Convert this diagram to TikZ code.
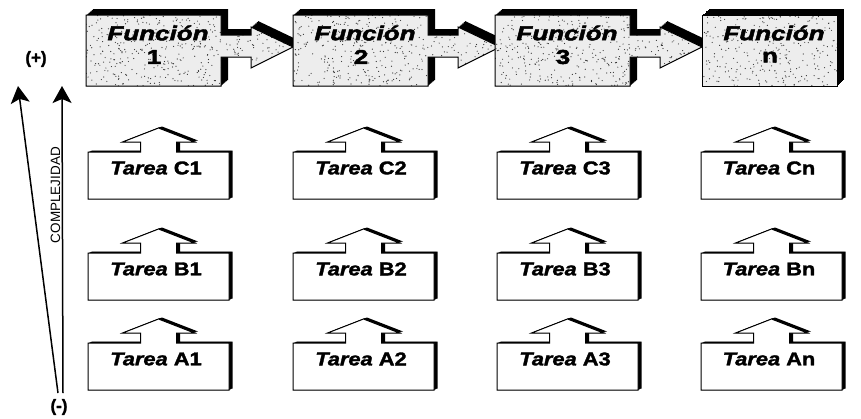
\documentclass[tikz,border=0pt]{standalone}
\usepackage{fontspec}
\setmainfont{Liberation Sans}
\newfontfamily\fnfont[FakeStretch=1.3,FakeBold=2.5]{Liberation Sans}
\newfontfamily\tkfont[FakeStretch=1.18,FakeBold=1.8]{Liberation Sans}
\newfontfamily\sgnfont[FakeBold=1.5]{Liberation Sans}
\usetikzlibrary{arrows.meta}
\tikzset{
  fntxt/.style={font=\fnfont\fontsize{20}{22}\selectfont\bfseries\itshape, inner sep=0pt},
  numtxt/.style={font=\fnfont\fontsize{20}{22}\selectfont\bfseries, inner sep=0pt},
  tktxt/.style={font=\tkfont\fontsize{18.5}{20}\selectfont\bfseries, inner sep=0pt},
  sgn/.style={font=\sgnfont\fontsize{17}{19}\selectfont\bfseries, inner sep=0pt},
  bigarrow/.style={line width=1.5pt, -{Stealth[length=17pt,width=19pt,inset=4pt]}},
  frontface/.style={fill=black!7},
  edge/.style={draw=black, line width=1pt},
}
\begin{document}
\begin{tikzpicture}[x=1pt,y=-1pt]
\useasboundingbox (0,0) rectangle (861,418);
\pgfmathsetseed{7}
% ---------- function boxes ----------
\foreach \L/\lab/\arr in {86/1/1,293/2/1,495/3/1,702/n/0}{
  \ifnum\arr=1
    \def\fpath{(\L,15) -- (\L+135,15) -- (\L+135,35) -- (\L+165,35) -- (\L+165,27) -- (\L+207,47) -- (\L+165,68) -- (\L+165,57) -- (\L+135,57) -- (\L+135,86) -- (\L,86) -- cycle}
  \else
    \def\fpath{(\L,15) -- (\L+135,15) -- (\L+135,86) -- (\L,86) -- cycle}
  \fi
  \foreach \t in {0,0.125,...,1.01}{
    \fill[black, shift={(7*\t,-6*\t)}] \fpath;
  }
  \fill[frontface] \fpath;
  \begin{scope}
    \clip \fpath;
    \foreach \k in {1,...,480}{
      \fill[black!80] ({\L+rnd*210},{15+rnd*71}) circle (0.6pt);
    }
  \end{scope}
  \draw[edge] \fpath;
  \node[fntxt] (fun\lab) at (\L+72,33) {Función};
  \node[numtxt] (num\lab) at (\L+68,57) {\lab};
}
% ---------- task boxes ----------
\foreach \L/\c in {88/1,293/2,497/3,701/n}{
  \foreach \T/\r in {152/C,253/B,343/A}{
    \def\tpath{(\L,\T) -- (\L+52.5,\T) -- (\L+52.5,\T-10) -- (\L+34.5,\T-10) -- (\L+70.5,\T-24) -- (\L+106.5,\T-10) -- (\L+88.5,\T-10) -- (\L+88.5,\T) -- (\L+141,\T) -- (\L+141,\T+47) -- (\L,\T+47) -- cycle}
    \foreach \t in {0,0.25,...,1.01}{
      \fill[black, shift={(3.5*\t,-1.5*\t)}] \tpath;
    }
    \fill[white] \tpath;
    \draw[edge] \tpath;
    \node[tktxt] (task\r\c) at (\L+68,\T+16) {\textit{Tarea} \r\c};
  }
}
% ---------- complexity axis ----------
\coordinate (a1s) at (58,393);
\coordinate (a1e) at (18,86);
\coordinate (a2s) at (63,393);
\coordinate (a2e) at (62,86);
\draw[bigarrow] (a1s) -- (a1e);
\draw[bigarrow] (a2s) -- (a2e);
\node[sgn] (plus) at (36,59) {(+)};
\node[sgn] (minus) at (59,407) {(-)};
\node[rotate=90, font=\fontsize{13.5}{15}\selectfont, inner sep=0pt] (cplx) at (55.5,195) {COMPLEJIDAD};
\end{tikzpicture}
\end{document}
